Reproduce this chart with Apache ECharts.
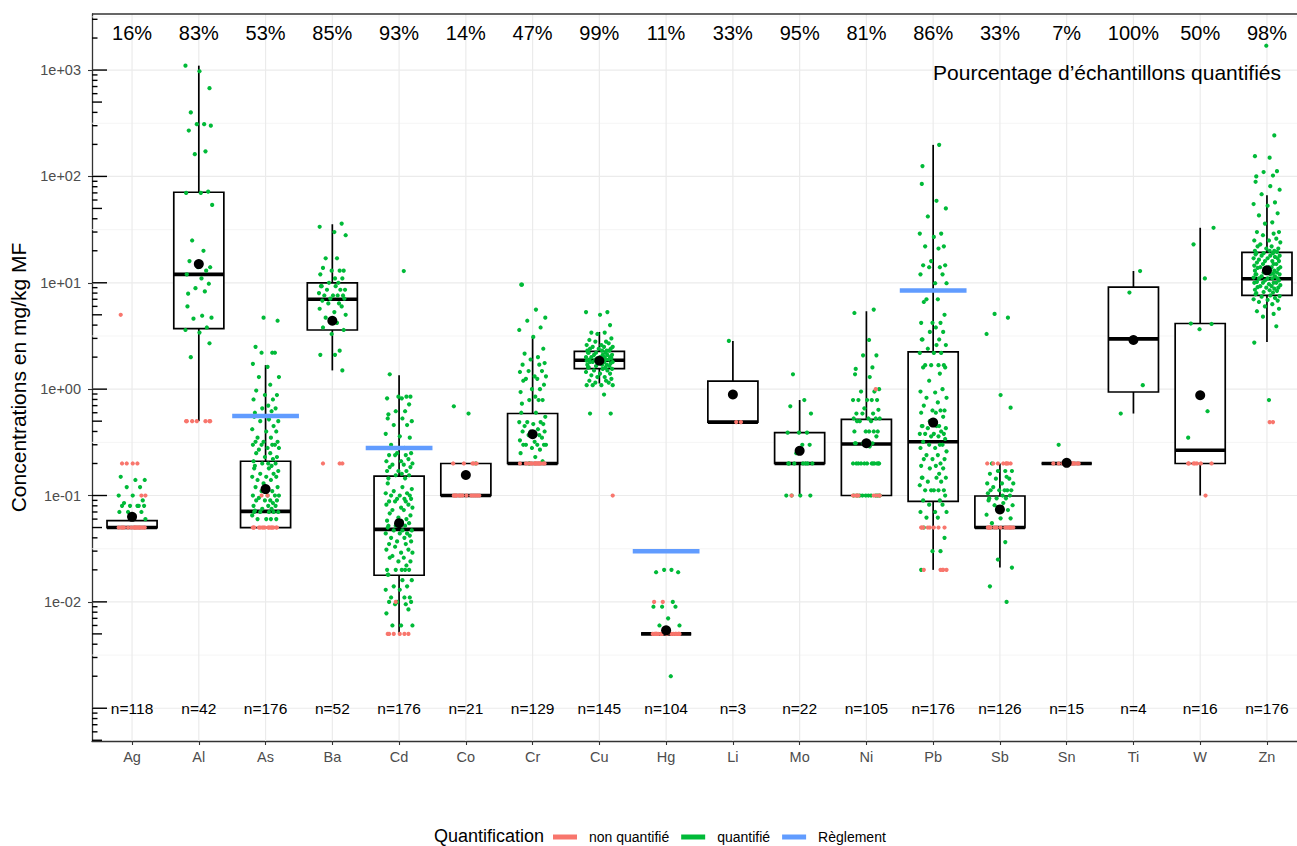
<!DOCTYPE html>
<html><head><meta charset="utf-8">
<script src="https://cdn.jsdelivr.net/npm/echarts@6/dist/echarts.min.js"></script>
<style>html,body{margin:0;padding:0;background:#fff}#c{width:1297px;height:846px}</style>
</head><body><div id="c"></div>
<script>
// ---------------- DATA ----------------
const categories = ['Ag','Al','As','Ba','Cd','Co','Cr','Cu','Hg','Li','Mo','Ni','Pb','Sb','Sn','Ti','W','Zn'];
const pctLabels = ['16%','83%','53%','85%','93%','14%','47%','99%','11%','33%','95%','81%','86%','33%','7%','100%','50%','98%'];
const nCounts = [118,42,176,52,176,21,129,145,104,3,22,105,176,126,15,4,16,176];

// box statistics: lower whisker, Q1, median, Q3, upper whisker
const boxLow  = [0.05, 0.5, 0.05, 1.5, 0.005, 0.1, 0.2, 1.13, 0.005, 0.49, 0.1, 0.1, 0.02, 0.021, 0.2, 0.59, 0.1, 2.78];
const boxQ1   = [0.05, 3.7, 0.05, 3.6, 0.0178, 0.1, 0.2, 1.56, 0.005, 0.49, 0.2, 0.1, 0.088, 0.05, 0.2, 0.94, 0.2, 7.6];
const boxMed  = [0.05, 12, 0.071, 7.0, 0.048, 0.1, 0.2, 1.87, 0.005, 0.49, 0.2, 0.305, 0.32, 0.05, 0.2, 2.97, 0.266, 10.9];
const boxQ3   = [0.058, 71, 0.21, 10, 0.152, 0.2, 0.59, 2.27, 0.005, 1.19, 0.39, 0.52, 2.24, 0.099, 0.2, 9.1, 4.14, 19.3];
const boxHigh = [0.058, 1100, 1.68, 35.5, 1.35, 0.2, 3.1, 3.45, 0.005, 2.84, 0.79, 5.4, 198, 0.2, 0.2, 12.9, 32.9, 66.7];
const means   = [0.063, 15, 0.115, 4.4, 0.055, 0.156, 0.377, 1.85, 0.0054, 0.89, 0.263, 0.31, 0.485, 0.074, 0.203, 2.9, 0.877, 13.1];

const reglCats = ['As','Cd','Hg','Pb'];
const reglValues = [0.56, 0.28, 0.03, 8.46];

// quantified (q_) and non-quantified (nq_) measurements
const q_Ag = [0.15,0.14,0.14,0.12,0.12,0.1,0.1,0.09,0.085,0.08,0.08,0.08,0.08,0.08,0.07,0.07,0.07,0.065,0.06];
const nq_Ag = [5.0,0.2,0.2,0.2,0.2,0.1,0.1,0.05,0.05,0.05,0.05,0.05,0.05,0.05,0.05,0.05,0.05,0.05,0.05,0.05,0.05,0.05,0.05];
const q_Al = [1100,975,676,400,310,310,300,270,172,162,72,70,70,54,25,20,16,14,14,13,12,11,9.8,8.9,8.3,7.9,6,4.9,4.7,4.6,3.8,3.6,3.4,2.7,2.0];
const nq_Al = [0.5,0.5,0.5,0.5,0.5,0.5,0.5];
const q_As = [4.7,4.4,2.5,2.2,2.2,2.2,1.73,1.62,1.3,1.3,1.1,0.97,0.88,0.88,0.8,0.8,0.7,0.66,0.66,0.62,0.6,0.55,0.52,0.5,0.5,0.45,0.42,0.4,0.4,0.35,0.35,0.32,0.32,0.32,0.3,0.3,0.3,0.3,0.28,0.28,0.27,0.25,0.25,0.23,0.23,0.22,0.21,0.2,0.2,0.2,0.19,0.19,0.18,0.18,0.17,0.16,0.16,0.15,0.15,0.15,0.14,0.14,0.13,0.12,0.12,0.11,0.11,0.1,0.1,0.1,0.1,0.095,0.09,0.09,0.09,0.09,0.085,0.08,0.08,0.08,0.075,0.075,0.072,0.07,0.07,0.07,0.07,0.07,0.065,0.06,0.06,0.06,0.06];
const nq_As = [0.1,0.1,0.05,0.05,0.05,0.05,0.05,0.05,0.05,0.05,0.05,0.05,0.05,0.05,0.05,0.05,0.05,0.05];
const q_Ba = [36,33.6,30,28,17,17,13.8,13,13,13,12,11,11,10,10,9.3,9.3,9.3,8.6,8.6,8.6,8.0,7.6,7.6,7.6,7.6,7.1,7.1,6.8,6.4,6.4,6.0,5.7,5.3,5.0,4.7,4.2,3.8,3.6,3.3,2.3,2.1,2.1,1.5];
const nq_Ba = [0.2,0.2,0.2];
const q_Cd = [12.9,1.38,0.85,0.85,0.85,0.82,0.82,0.72,0.62,0.62,0.58,0.53,0.53,0.5,0.46,0.46,0.38,0.36,0.35,0.3,0.28,0.25,0.25,0.24,0.24,0.24,0.22,0.21,0.21,0.2,0.195,0.195,0.185,0.185,0.17,0.17,0.17,0.16,0.155,0.155,0.145,0.145,0.13,0.12,0.115,0.11,0.105,0.105,0.1,0.1,0.1,0.093,0.093,0.093,0.088,0.088,0.088,0.082,0.082,0.077,0.077,0.073,0.073,0.068,0.065,0.062,0.06,0.058,0.057,0.055,0.052,0.052,0.052,0.05,0.047,0.047,0.047,0.044,0.044,0.044,0.042,0.04,0.04,0.037,0.037,0.035,0.035,0.033,0.031,0.031,0.029,0.029,0.027,0.026,0.026,0.024,0.024,0.022,0.02,0.02,0.02,0.02,0.02,0.018,0.018,0.016,0.016,0.014,0.014,0.013,0.013,0.011,0.011,0.011,0.01,0.01,0.01,0.0095,0.0095,0.0085,0.0078,0.006,0.006,0.006];
const nq_Cd = [0.01,0.005,0.005,0.005,0.005,0.005,0.005];
const q_Co = [0.69,0.59,0.2];
const nq_Co = [0.2,0.2,0.2,0.2,0.2,0.1,0.1,0.1,0.1,0.1,0.1,0.1,0.1,0.1,0.1,0.1,0.1,0.1];
const q_Cr = [9.6,9.6,5.6,4.7,4.4,3.8,3.6,3.1,2.4,2.16,2.0,1.9,1.76,1.7,1.7,1.48,1.48,1.45,1.32,1.32,1.25,1.25,1.2,1.1,1.0,1.0,0.94,0.85,0.79,0.79,0.79,0.73,0.6,0.6,0.55,0.49,0.49,0.49,0.47,0.47,0.45,0.42,0.4,0.4,0.4,0.37,0.37,0.35,0.33,0.32,0.3,0.3,0.3,0.3,0.3,0.28,0.27,0.25,0.23,0.21,0.2];
const nq_Cr = [0.2,0.2,0.2,0.2,0.2,0.2,0.2,0.2,0.2,0.2,0.2,0.2,0.2,0.2];
const q_Cu = [5.3,5.3,5.0,4.0,3.4,3.4,3.3,3.0,2.9,2.8,2.8,2.7,2.6,2.6,2.5,2.5,2.5,2.4,2.4,2.4,2.3,2.3,2.3,2.3,2.2,2.2,2.2,2.2,2.1,2.1,2.1,2.1,2.0,2.0,2.0,2.0,2.0,1.95,1.95,1.9,1.9,1.9,1.9,1.85,1.85,1.8,1.8,1.8,1.8,1.75,1.75,1.7,1.7,1.7,1.65,1.65,1.6,1.6,1.6,1.55,1.55,1.5,1.5,1.45,1.4,1.4,1.35,1.3,1.3,1.25,1.2,1.2,1.15,1.15,1.09,1.09,1.09,1.09,0.89,0.59,0.59];
const nq_Cu = [0.1];
const q_Hg = [0.02,0.02,0.019,0.019,0.01,0.009,0.009,0.009,0.007,0.006,0.006,0.002];
const nq_Hg = [0.01,0.01,0.005,0.005,0.005,0.005,0.005,0.005,0.005,0.005,0.005,0.005,0.005,0.005,0.005,0.005,0.005,0.005];
const q_Li = [2.84];
const nq_Li = [0.49,0.49];
const q_Mo = [1.38,0.79,0.69,0.59,0.39,0.39,0.39,0.3,0.3,0.25,0.2,0.2,0.2,0.2,0.2,0.2,0.2,0.1,0.1,0.1,0.1];
const nq_Mo = [0.1];
const q_Ni = [5.6,5.2,2.9,2.08,2.08,1.6,1.55,1.38,1.3,1.0,0.95,0.95,0.79,0.79,0.79,0.79,0.79,0.66,0.64,0.59,0.59,0.59,0.53,0.53,0.53,0.53,0.5,0.5,0.5,0.4,0.4,0.4,0.4,0.4,0.36,0.31,0.31,0.31,0.31,0.29,0.2,0.2,0.2,0.2,0.2,0.2,0.2,0.2,0.2,0.2,0.2,0.2,0.1,0.1,0.1,0.1,0.1,0.1,0.1,0.1,0.1,0.1];
const nq_Ni = [1.0,0.1,0.1,0.1,0.1,0.1,0.1,0.1,0.1];
const q_Pb = [198,125,85,59,50,42,29,29,27,22,22,21,16,14.6,14.6,14,14,12,12,9.9,9.9,7.0,7.0,6.6,5.0,4.2,4.2,4.2,3.8,3.45,3.45,2.93,2.93,2.93,2.6,2.6,2.4,2.19,2.19,2.19,1.68,1.68,1.68,1.68,1.6,1.6,1.4,1.2,1.0,0.95,0.93,0.83,0.83,0.75,0.7,0.63,0.63,0.63,0.6,0.6,0.55,0.5,0.45,0.45,0.45,0.45,0.43,0.43,0.4,0.38,0.38,0.38,0.38,0.36,0.36,0.34,0.32,0.3,0.3,0.3,0.28,0.28,0.26,0.24,0.24,0.22,0.22,0.22,0.2,0.19,0.19,0.18,0.18,0.16,0.147,0.147,0.147,0.147,0.135,0.135,0.125,0.112,0.112,0.112,0.112,0.112,0.1,0.09,0.09,0.082,0.082,0.07,0.07,0.07,0.062,0.062,0.05,0.04,0.03,0.03,0.02];
const nq_Pb = [0.05,0.05,0.05,0.05,0.05,0.05,0.05,0.05,0.02,0.02,0.02,0.02,0.02];
const q_Sb = [5.1,4.7,3.3,0.88,0.67,0.2,0.17,0.17,0.17,0.16,0.15,0.144,0.144,0.13,0.13,0.13,0.12,0.112,0.112,0.112,0.112,0.112,0.105,0.1,0.1,0.094,0.094,0.094,0.09,0.085,0.081,0.081,0.073,0.066,0.061,0.061,0.055,0.0365,0.025,0.021,0.014,0.01];
const nq_Sb = [0.2,0.2,0.2,0.2,0.2,0.2,0.2,0.2,0.05,0.05,0.05,0.05,0.05,0.05,0.05,0.05,0.05,0.05,0.05,0.05,0.05,0.05];
const q_Sn = [0.3];
const nq_Sn = [0.2,0.2,0.2,0.2,0.2,0.2,0.2,0.2,0.2,0.2,0.2,0.2,0.2,0.2];
const q_Ti = [12.9,8.1,1.09,0.59];
const nq_Ti = [];
const q_W = [32.9,23,11,4.14,4.1,3.66,0.62,0.35];
const nq_W = [0.2,0.2,0.2,0.2,0.2,0.2,0.2,0.1];
const q_Zn = [1694,243,155,150,112,110,102,100,89,81,75,68,57,55,53,45,43,37,36,30,30,29,28,26,25,25,24,23,22,22,21,21,20,20,20,19.5,19,19,19,18.5,18,18,18,17.5,17,17,17,16.5,16,16,16,15.5,15,15,15,14.5,14,14,14,14,13.8,13.5,13,13,13,13,12.5,12.5,12.2,12,12,12,12,11.5,11.5,11.2,11,11,11,11,10.5,10.5,10.2,10,10,10,10,9.7,9.5,9.3,9.3,9.1,9.0,9.0,8.8,8.6,8.5,8.4,8.2,8.1,8.0,7.8,7.6,7.5,7.4,7.2,7.0,6.9,6.8,6.6,6.3,6.0,5.7,5.4,5.1,4.8,3.9,2.74,0.79];
const nq_Zn = [0.49,0.49];

const quantLists = [q_Ag,q_Al,q_As,q_Ba,q_Cd,q_Co,q_Cr,q_Cu,q_Hg,q_Li,q_Mo,q_Ni,q_Pb,q_Sb,q_Sn,q_Ti,q_W,q_Zn];
const nonQuantLists = [nq_Ag,nq_Al,nq_As,nq_Ba,nq_Cd,nq_Co,nq_Cr,nq_Cu,nq_Hg,nq_Li,nq_Mo,nq_Ni,nq_Pb,nq_Sb,nq_Sn,nq_Ti,nq_W,nq_Zn];

// axis breaks
const majorBreaks = [0.001,0.01,0.1,1,10,100,1000];
const minorBreaks = [0.00316,0.0316,0.316,3.16,31.6,316,3162];
const labelBreaks = [0.01,0.1,1,10,100,1000];
const logTickMult = [1,2,3,4,5,6,7,8,9];
const logTickDecades = [0.0001,0.001,0.01,0.1,1,10,100,1000];

// ---------------- LAYOUT ----------------
const X_MIN = -0.6, X_MAX = 17.45;
const Y_MIN = Math.pow(10, -3.308), Y_MAX = Math.pow(10, 3.527);
const PCT_Y = 2215, N_Y = 0.001;
const BOX_HALF = 0.375, REG_HALF = 0.5;
const JIT = [-0.17,0.05,0.19,-0.08,0.12,-0.2,0.01,0.16,-0.12,0.08,-0.03,0.18,-0.15,0.1,-0.06,0.14,-0.19,0.03,0.2,-0.1,0.07,-0.14,0.17,-0.01,0.11,-0.18,0.04,0.15,-0.05,0.09,-0.16];
const FONT = "'Liberation Sans', Arial, Helvetica, sans-serif";
const RED = '#F8766D', GREEN = '#00BA38', BLUE = '#619CFF';

const catIdx = categories.map((c, i) => i);

const gridData = [];
majorBreaks.forEach(v => gridData.push([0, v, 0]));
minorBreaks.forEach(v => gridData.push([0, v, 1]));
catIdx.forEach(i => gridData.push([i, 1, 2]));

const logTickData = [];
logTickDecades.forEach(d => logTickMult.forEach(m => {
  const v = m * d;
  if (v >= Y_MIN && v <= Y_MAX) logTickData.push([X_MIN, v, m]);
}));

const boxData = catIdx.map(i => [i, boxLow[i], boxQ1[i], boxMed[i], boxQ3[i], boxHigh[i]]);
const meanData = catIdx.map(i => [i, means[i]]);
const greenData = [], redData = [];
quantLists.forEach((arr, i) => arr.forEach((v, k) => greenData.push([i + JIT[(k + i * 5) % JIT.length], v])));
nonQuantLists.forEach((arr, i) => arr.forEach((v, k) => redData.push([i + JIT[(k * 3 + i * 7) % JIT.length], v])));
const reglData = reglCats.map((c, k) => [categories.indexOf(c), reglValues[k]]);

const textData = [];
catIdx.forEach(i => textData.push([i, PCT_Y, 0]));
catIdx.forEach(i => textData.push([i, N_Y, 1]));
textData.push([17.21, 957, 2]);

function fmtExp(v) {
  const l = Math.log10(v), e = Math.round(l);
  if (Math.abs(l - e) > 0.02 || e < -2 || e > 3) return '';
  return '1e' + (e < 0 ? '-' : '+') + String(Math.abs(e)).padStart(2, '0');
}

const chart = echarts.init(document.getElementById('c'), null, {renderer: 'svg'});
chart.setOption({
  animation: false,
  backgroundColor: '#fff',
  textStyle: {fontFamily: FONT},
  grid: {left: 92, top: 14, width: 1205, height: 727, show: false, containLabel: false, outerBoundsMode: 'none'},
  xAxis: {
    type: 'value', min: X_MIN, max: X_MAX,
    axisLine: {show: true, onZero: false, lineStyle: {color: '#333', width: 1.3}},
    axisTick: {show: true, customValues: catIdx, length: 4, lineStyle: {color: '#333', width: 1.1}},
    axisLabel: {customValues: catIdx, color: '#4D4D4D', fontSize: 14.5, margin: 8, fontFamily: FONT,
      formatter: v => (Math.abs(v - Math.round(v)) < 1e-6 && categories[Math.round(v)]) ? categories[Math.round(v)] : ''},
    splitLine: {show: false}
  },
  yAxis: {
    type: 'log', logBase: 10, min: Y_MIN, max: Y_MAX,
    name: 'Concentrations en mg/kg MF', nameLocation: 'middle', nameGap: 55,
    nameTextStyle: {fontSize: 21, color: '#000', fontFamily: FONT},
    axisLine: {show: true, onZero: false, lineStyle: {color: '#333', width: 1.3}},
    axisTick: {show: true, customValues: labelBreaks, length: 4, lineStyle: {color: '#333', width: 1.1}},
    axisLabel: {customValues: labelBreaks, color: '#4D4D4D', fontSize: 14.5, margin: 11, fontFamily: FONT, formatter: fmtExp},
    splitLine: {show: false}, minorSplitLine: {show: false}
  },
  legend: {
    left: 553, top: 830, padding: 0, itemWidth: 24, itemHeight: 5, itemGap: 12, icon: 'rect', selectedMode: false,
    textStyle: {fontSize: 14, color: '#000', fontFamily: FONT, padding: [0, 0, 0, 7]},
    data: ['non quantifié', 'quantifié', 'Règlement']
  },
  graphic: [{type: 'text', left: 434, top: 827, style: {text: 'Quantification', fontSize: 18, fill: '#000', fontFamily: FONT}}],
  series: [
    {
      type: 'custom', name: 'grid', z: 1, silent: true, clip: true, data: gridData, encode: {x: 0, y: 1},
      renderItem: (p, api) => {
        const kind = api.value(2);
        let a, b;
        if (kind === 2) { a = api.coord([api.value(0), Y_MIN]); b = api.coord([api.value(0), Y_MAX]); }
        else { a = api.coord([X_MIN, api.value(1)]); b = api.coord([X_MAX, api.value(1)]); }
        return {type: 'line', shape: {x1: a[0], y1: a[1], x2: b[0], y2: b[1]},
          style: {stroke: kind === 1 ? '#F2F2F2' : '#EBEBEB', lineWidth: kind === 1 ? 0.8 : 1.2}};
      }
    },
    {
      type: 'custom', name: 'frame', z: 6, silent: true, clip: false, data: [[X_MIN, Y_MAX]], encode: {x: 0, y: 1},
      renderItem: (p, api) => {
        const a = api.coord([X_MIN, Y_MAX]), b = api.coord([X_MAX, Y_MAX]);
        return {type: 'line', shape: {x1: a[0], y1: a[1], x2: b[0] + 5, y2: b[1]}, style: {stroke: '#333', lineWidth: 1.3}};
      }
    },
    {
      type: 'custom', name: 'logticks', z: 6, silent: true, clip: false, data: logTickData, encode: {x: 0, y: 1},
      renderItem: (p, api) => {
        const m = api.value(2);
        const a = api.coord([X_MIN, api.value(1)]);
        const len = m === 1 ? 15 : (m === 5 ? 10 : 5.5);
        return {type: 'line', shape: {x1: a[0], y1: a[1], x2: a[0] + len, y2: a[1]}, style: {stroke: '#000', lineWidth: 1.4}};
      }
    },
    {
      type: 'custom', name: 'box', z: 2, silent: true, clip: true, data: boxData, encode: {x: 0, y: [1, 2, 3, 4, 5]},
      renderItem: (p, api) => {
        const i = api.value(0);
        const lo = api.value(1), q1 = api.value(2), md = api.value(3), q3 = api.value(4), hi = api.value(5);
        const tl = api.coord([i - BOX_HALF, q3]), br = api.coord([i + BOX_HALF, q1]);
        const m1 = api.coord([i - BOX_HALF, md]), m2 = api.coord([i + BOX_HALF, md]);
        const wt = api.coord([i, hi]), wq3 = api.coord([i, q3]), wq1 = api.coord([i, q1]), wb = api.coord([i, lo]);
        const ls = {stroke: '#000', lineWidth: 1.7};
        return {type: 'group', children: [
          {type: 'line', shape: {x1: wt[0], y1: wt[1], x2: wq3[0], y2: wq3[1]}, style: ls},
          {type: 'line', shape: {x1: wq1[0], y1: wq1[1], x2: wb[0], y2: wb[1]}, style: ls},
          {type: 'rect', shape: {x: tl[0], y: tl[1], width: br[0] - tl[0], height: br[1] - tl[1]}, style: {fill: '#fff', stroke: '#000', lineWidth: 1.7}},
          {type: 'line', shape: {x1: m1[0], y1: m1[1], x2: m2[0], y2: m2[1]}, style: {stroke: '#000', lineWidth: 3.6}}
        ]};
      }
    },
    {type: 'scatter', name: 'quantifié', z: 3, data: greenData, symbolSize: 4.2, itemStyle: {color: GREEN, opacity: 1}, silent: true},
    {type: 'scatter', name: 'non quantifié', z: 3, data: redData, symbolSize: 4.2, itemStyle: {color: RED, opacity: 1}, silent: true},
    {type: 'scatter', name: 'mean', z: 4, data: meanData, symbolSize: 10, itemStyle: {color: '#000', opacity: 1}, silent: true},
    {
      type: 'custom', name: 'Règlement', z: 5, silent: true, clip: true, data: reglData, encode: {x: 0, y: 1},
      itemStyle: {color: BLUE},
      renderItem: (p, api) => {
        const a = api.coord([api.value(0) - REG_HALF, api.value(1)]), b = api.coord([api.value(0) + REG_HALF, api.value(1)]);
        return {type: 'line', shape: {x1: a[0], y1: a[1], x2: b[0], y2: b[1]}, style: {stroke: BLUE, lineWidth: 4.5}};
      }
    },
    {
      type: 'custom', name: 'labels', z: 7, silent: true, clip: false, data: textData, encode: {x: 0, y: 1},
      renderItem: (p, api) => {
        const kind = api.value(2), i = api.value(0);
        const c = api.coord([i, api.value(1)]);
        if (kind === 0) return {type: 'text', x: c[0], y: c[1], style: {text: pctLabels[i], fontSize: 20, fill: '#000', align: 'center', verticalAlign: 'middle', fontFamily: FONT}};
        if (kind === 1) return {type: 'text', x: c[0], y: c[1], style: {text: 'n=' + nCounts[i], fontSize: 15.5, fill: '#000', align: 'center', verticalAlign: 'middle', fontFamily: FONT}};
        return {type: 'text', x: c[0], y: c[1], style: {text: 'Pourcentage d’échantillons quantifiés', fontSize: 21, fill: '#000', align: 'right', verticalAlign: 'middle', fontFamily: FONT}};
      }
    }
  ]
});
</script></body></html>
